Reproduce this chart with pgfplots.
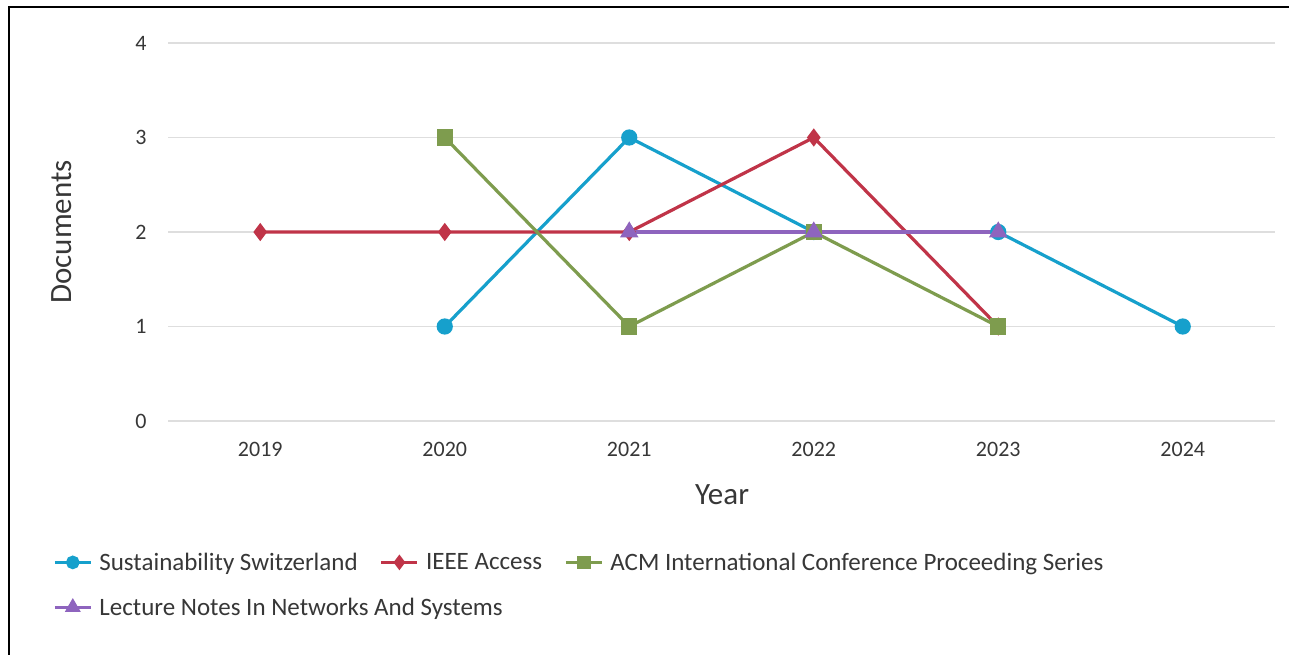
\documentclass[border=0pt]{standalone}
\usepackage{pgfplots}
\pgfplotsset{compat=1.18}
\usepackage{fontspec}
\setmainfont{Carlito}
\definecolor{cSus}{RGB}{22,160,204}
\definecolor{cIEEE}{RGB}{192,52,72}
\definecolor{cACM}{RGB}{126,156,78}
\definecolor{cLNN}{RGB}{142,100,190}
\definecolor{txt}{RGB}{55,55,55}
\definecolor{gridc}{RGB}{222,222,222}
\begin{document}
\begin{tikzpicture}
\useasboundingbox (0pt,0pt) rectangle (1289pt,-655pt);
\fill[white] (0pt,0pt) rectangle (1289pt,-655pt);
\draw[black,line width=2pt] (8.5pt,-655pt) -- (8.5pt,-7pt) -- (1289pt,-7pt);
\begin{axis}[
  at={(168pt,-421pt)}, anchor=south west,
  scale only axis, width=1107pt, height=378pt,
  xmin=2018.5, xmax=2024.5, ymin=0, ymax=4,
  axis line style={draw=none},
  major tick length=0pt,
  xtick={2019,2020,2021,2022,2023,2024},
  xticklabels={2019,2020,2021,2022,2023,2024},
  ytick={0,1,2,3,4},
  yticklabels={0,1,2,3,4},
  ymajorgrids, grid style={gridc, line width=1.2pt},
  ticklabel style={font=\fontsize{22}{26}\selectfont, text=txt},
  xticklabel style={yshift=-18pt},
  yticklabel style={xshift=-18pt},
  xlabel={Year}, ylabel={Documents},
  label style={font=\fontsize{31}{36}\selectfont, text=txt},
  xlabel style={at={(axis description cs:0.5005,-0.196)}, anchor=center},
  ylabel style={at={(axis description cs:-0.0958,0.5)}, anchor=center},
  every axis plot/.append style={line width=3.2pt},
  legend columns=3,
  legend cell align=left,
  legend style={at={(axis description cs:-0.1066,-0.338)}, anchor=north west,
    draw=none, fill=none, font=\fontsize{25}{29}\selectfont, text=txt,
    row sep=22pt,
    /tikz/every odd column/.append style={column sep=5pt},
    /tikz/every even column/.append style={column sep=20pt}},
  legend image code/.code={
    \draw[mark repeat=2,mark phase=2,mark options={scale=0.8}] plot coordinates {(0pt,0pt) (18pt,0pt) (36pt,0pt)};
  },
]
\addplot[cSus, mark=*, mark size=6.5pt] coordinates {
  (2020,1) (2021,3) (2022,2) (2023,2) (2024,1)};
\addlegendentry{Sustainability Switzerland}
\addplot[cIEEE, mark=diamond*, mark size=6.5pt] coordinates {
  (2019,2) (2020,2) (2021,2) (2022,3) (2023,1)};
\addlegendentry{IEEE Access}
\addplot[cACM, mark=square*, mark size=6.5pt] coordinates {
  (2020,3) (2021,1) (2022,2) (2023,1)};
\addlegendentry{ACM International Conference Proceeding Series}
\addplot[cLNN, mark=triangle*, mark size=7.5pt] coordinates {
  (2021,2) (2022,2) (2023,2)};
\addlegendentry{\makebox[0pt][l]{Lecture Notes In Networks And Systems}}
\end{axis}
\end{tikzpicture}
\end{document}
